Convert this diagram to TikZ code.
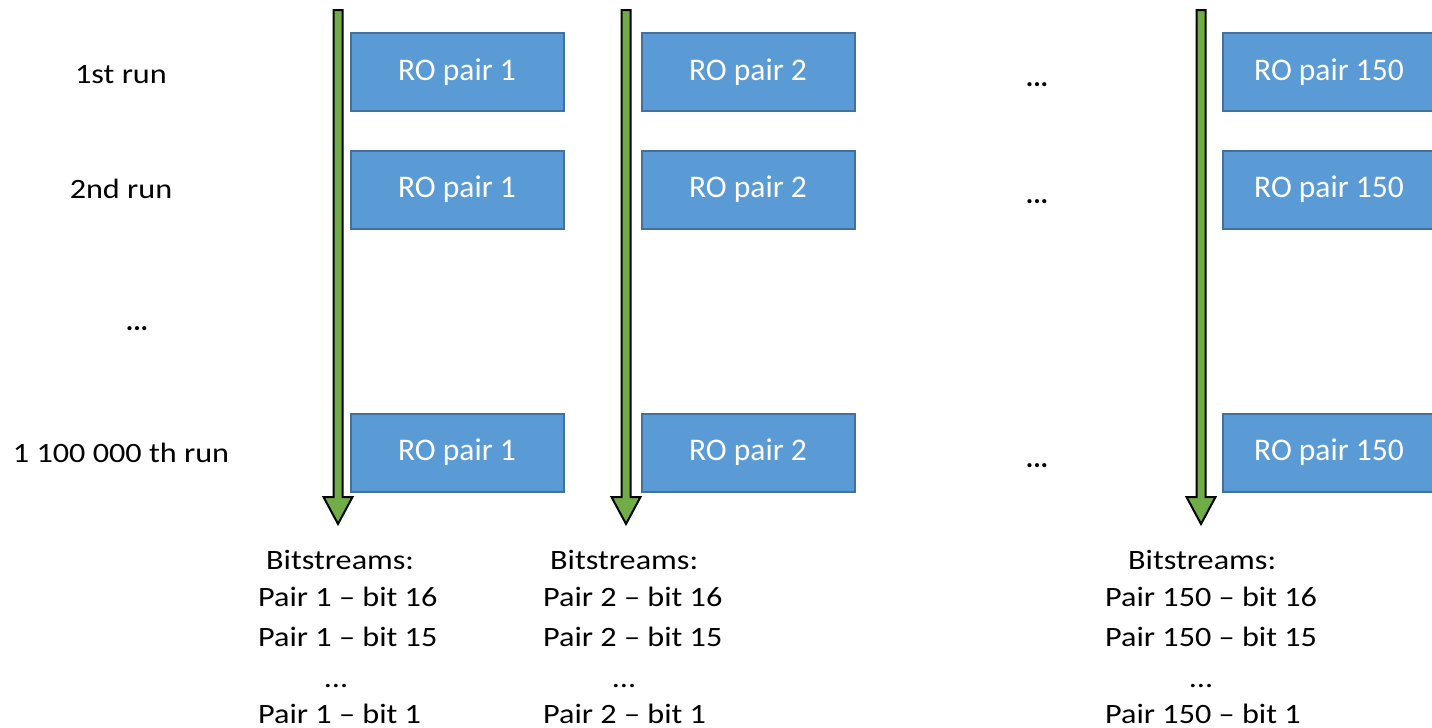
\documentclass[tikz,border=0pt]{standalone}
\usepackage{fontspec}
\setmainfont{Carlito}
\newfontfamily\widefont[FakeStretch=1.15,Ligatures=TeX]{Carlito}
\usetikzlibrary{calc}
\definecolor{boxfill}{HTML}{5B9BD5}
\definecolor{boxedge}{HTML}{41719C}
\definecolor{arrowfill}{HTML}{70AD47}
\tikzset{
  robox/.style={draw=boxedge, fill=boxfill, line width=2pt, minimum width=213pt,
    minimum height=78pt, inner sep=0pt, text=white, font=\fontsize{31.5}{36}\selectfont},
  lbl/.style={inner sep=0pt, font=\widefont\fontsize{28}{32}\selectfont},
  dots/.style={inner sep=0pt, font=\fontsize{28}{32}\selectfont\bfseries},
  runarrow/.style={fill=arrowfill, draw=black, line width=2pt, line join=miter}
}
% big block arrow from a top coordinate down to a tip coordinate
\newcommand\blockarrow[2]{%
  \draw[runarrow] ($(#1)+(-4.5,0)$) -- ($(#1)+(4.5,0)$) -- ($(#2)+(4.5,-27)$) -- ($(#2)+(14.5,-27)$)
    -- (#2) -- ($(#2)+(-14.5,-27)$) -- ($(#2)+(-4.5,-27)$) -- cycle;}
\begin{document}
\begin{tikzpicture}[x=1pt,y=-1pt]
\useasboundingbox (0,0) rectangle (1432,728);
\begin{scope}
\clip (0,0) rectangle (1432,728);

% run labels
\node[lbl, anchor=base] (r1) at (121,83) {1st run};
\node[lbl, anchor=base] (r2) at (121,198) {2nd run};
\node[dots, anchor=base] (rd) at (137,330) {...};
\node[lbl, anchor=base] (rn) at (121,462) {1 100 000 th run};

% arrows
\coordinate (t1) at (338,10);  \coordinate (e1) at (338,524);
\coordinate (t2) at (626,10);  \coordinate (e2) at (626,524);
\coordinate (t3) at (1201,10); \coordinate (e3) at (1201,524);
\blockarrow{t1}{e1}
\blockarrow{t2}{e2}
\blockarrow{t3}{e3}

% RO pair boxes
\node[robox] (b11) at (457,72) {RO pair 1};
\node[robox] (b12) at (748,72) {RO pair 2};
\node[robox] (b13) at (1329,72) {RO pair 150};
\node[robox] (b21) at (457,189.5) {RO pair 1};
\node[robox] (b22) at (748,189.5) {RO pair 2};
\node[robox] (b23) at (1329,189.5) {RO pair 150};
\node[robox] (b31) at (457,452.5) {RO pair 1};
\node[robox] (b32) at (748,452.5) {RO pair 2};
\node[robox] (b33) at (1329,452.5) {RO pair 150};

% column ellipses
\node[dots, anchor=base] (d1) at (1037,86) {...};
\node[dots, anchor=base] (d2) at (1037,203) {...};
\node[dots, anchor=base] (d3) at (1037,467) {...};

% bitstream lists
\node[lbl, anchor=base west] (s1) at (266,569) {Bitstreams:};
\node[lbl, anchor=base west] (p116) at (258,606) {Pair 1 – bit 16};
\node[lbl, anchor=base west] (p115) at (258,646) {Pair 1 – bit 15};
\node[lbl, anchor=base] (pd1) at (336,687) {...};
\node[lbl, anchor=base west] (p11) at (258,723) {Pair 1 – bit 1};

\node[lbl, anchor=base west] (s2) at (550,569) {Bitstreams:};
\node[lbl, anchor=base west] (p216) at (543,606) {Pair 2 – bit 16};
\node[lbl, anchor=base west] (p215) at (543,646) {Pair 2 – bit 15};
\node[lbl, anchor=base] (pd2) at (624,687) {...};
\node[lbl, anchor=base west] (p21) at (543,723) {Pair 2 – bit 1};

\node[lbl, anchor=base west] (s3) at (1128,569) {Bitstreams:};
\node[lbl, anchor=base west] (p316) at (1105,606) {Pair 150 – bit 16};
\node[lbl, anchor=base west] (p315) at (1105,646) {Pair 150 – bit 15};
\node[lbl, anchor=base] (pd3) at (1201,687) {...};
\node[lbl, anchor=base west] (p31) at (1105,723) {Pair 150 – bit 1};
\end{scope}
\end{tikzpicture}
\end{document}
